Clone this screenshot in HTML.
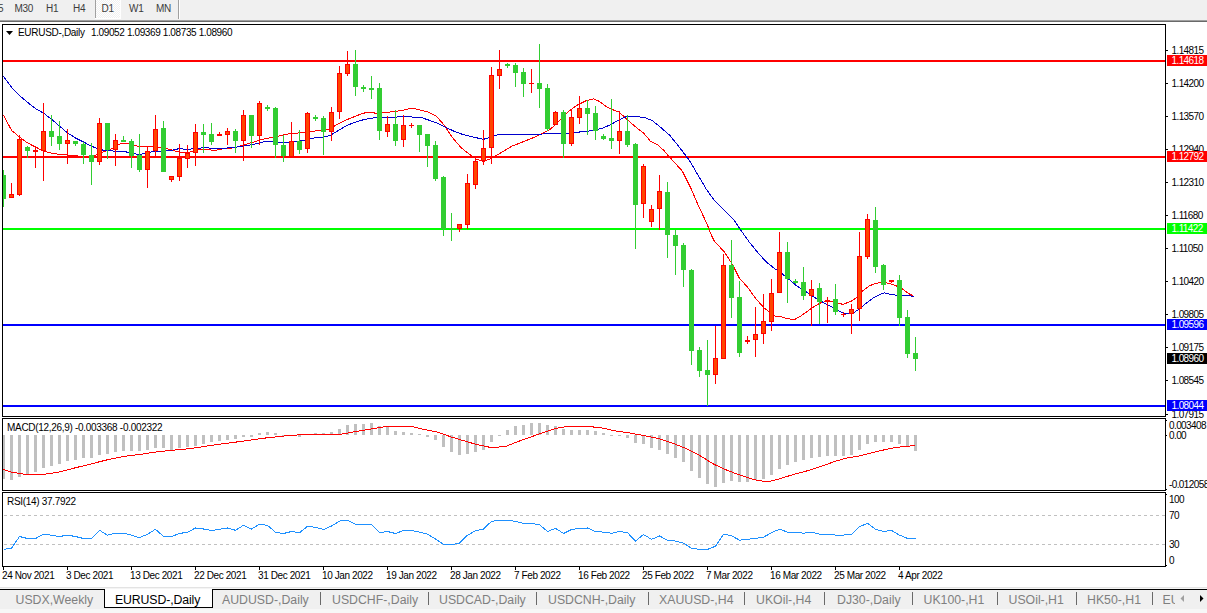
<!DOCTYPE html><html><head><meta charset="utf-8"><title>EURUSD-,Daily</title><style>
html,body{margin:0;padding:0;background:#fff;overflow:hidden}
body{width:1207px;height:613px;position:relative;font-family:"Liberation Sans",sans-serif}
svg{position:absolute;left:0;top:0;display:block}
.t{position:absolute;white-space:nowrap;font-family:"Liberation Sans",sans-serif;font-size:10px;line-height:11px;height:11px;color:#000;letter-spacing:-0.3px}
.tb{color:#3c3c3c}
.ax{letter-spacing:-0.6px}
.dt{letter-spacing:-0.4px}
.t2{letter-spacing:-0.38px}
.lb{position:absolute;left:1167px;width:40px;height:11px;color:#fff}
.lb span{position:absolute;left:4.5px;top:0;font-size:10px;letter-spacing:-0.6px;line-height:11px;white-space:nowrap}
.tab{position:absolute;top:591px;height:18px;line-height:18px;font-size:12.3px;color:#7f7f7f;white-space:nowrap}
</style></head><body>
<svg width="1207" height="613" viewBox="0 0 1207 613" shape-rendering="crispEdges">
<rect x="0" y="0" width="1207" height="20" fill="#f0f0f0"/>
<rect x="0" y="20" width="1207" height="1" fill="#a0a0a0"/>
<rect x="0" y="21" width="1207" height="1" fill="#696969"/>
<defs><pattern id="ck" x="0" y="0" width="2" height="2" patternUnits="userSpaceOnUse"><rect width="2" height="2" fill="#f0f0f0"/><rect x="0" y="0" width="1" height="1" fill="#fff"/><rect x="1" y="1" width="1" height="1" fill="#fff"/></pattern></defs>
<rect x="96" y="0" width="24" height="18" fill="url(#ck)"/>
<rect x="95" y="0" width="1" height="18" fill="#a0a0a0"/>
<rect x="120" y="0" width="1" height="19" fill="#ffffff"/>
<rect x="95" y="18" width="26" height="1" fill="#ffffff"/>
<rect x="178" y="0" width="1" height="19" fill="#a0a0a0"/>
<rect x="179" y="0" width="1" height="19" fill="#ffffff"/>
<rect x="2.5" y="24.5" width="1163" height="392" fill="#fff" stroke="#000" stroke-width="1"/>
<rect x="2.5" y="418.5" width="1163" height="72" fill="#fff" stroke="#000" stroke-width="1"/>
<rect x="2.5" y="492.5" width="1163" height="74" fill="#fff" stroke="#000" stroke-width="1"/>
<rect x="3" y="60" width="1162" height="2" fill="#ff0000"/>
<rect x="3" y="156" width="1162" height="2" fill="#ff0000"/>
<rect x="3" y="228" width="1162" height="2" fill="#00ff00"/>
<rect x="3" y="324" width="1162" height="2" fill="#0000ff"/>
<rect x="3" y="405" width="1162" height="2" fill="#0000ff"/>
<polyline points="3.3,115.0 11.6,130.4 19.5,137.0 27.5,142.9 35.5,147.0 43.4,151.1 51.5,153.1 59.5,154.5 67.4,155.0 75.4,155.8 85.0,156.5 93.3,156.3 102.4,152.2 109.9,149.7 118.2,144.7 123.1,143.0 129.0,143.9 138.0,146.4 146.3,146.7 156.3,147.2 162.9,148.0 169.5,149.3 176.2,151.3 182.8,152.7 189.4,152.2 197.7,149.7 206.0,149.3 214.3,150.5 222.6,148.9 230.8,148.4 239.1,146.4 247.4,143.9 255.7,141.4 264.0,138.9 272.3,137.3 280.6,135.6 288.3,134.0 296.6,133.1 304.9,132.3 313.1,131.2 321.4,130.3 329.7,129.0 338.0,124.0 346.3,119.9 354.6,116.6 362.9,113.3 369.5,112.1 376.1,113.3 386.0,112.4 396.0,111.3 404.3,109.9 411.7,108.0 419.2,109.9 427.5,111.9 435.8,115.7 444.0,124.9 452.3,137.3 460.6,147.2 468.9,153.9 475.8,158.8 483.3,161.6 491.5,158.3 496.5,155.5 503.1,151.4 511.4,146.4 519.7,143.1 528.0,139.8 536.3,136.5 542.9,133.1 549.5,129.8 556.2,124.0 562.8,117.4 569.4,110.8 576.0,105.8 586.0,100.8 593.4,98.8 599.2,101.3 605.9,106.3 612.5,109.6 619.1,112.1 627.4,119.7 635.7,127.0 644.0,133.5 650.6,141.4 657.2,144.4 663.9,150.5 668.0,155.5 673.0,160.8 682.1,170.8 691.3,189.0 697.9,204.7 707.0,223.8 710.3,232.9 714.4,241.2 724.4,252.0 732.7,264.9 739.3,278.1 747.6,287.2 755.9,298.8 764.2,307.9 774.1,315.9 782.4,317.1 786.6,318.4 794.1,319.8 801.5,315.6 811.5,308.2 819.8,303.2 828.0,300.7 835.5,302.4 843.0,304.4 851.3,301.2 857.9,296.6 862.9,290.8 869.5,285.8 876.1,283.3 882.7,282.5 889.4,283.3 896.0,285.8 902.6,289.1 908.4,293.3 914.2,296.6" fill="none" stroke="#ff0000" stroke-width="1" shape-rendering="crispEdges"/>
<polyline points="3.3,76.1 11.6,87.3 19.5,95.6 27.5,102.3 35.5,108.6 43.4,113.0 51.5,119.3 59.5,126.0 67.4,132.9 75.4,137.9 83.5,142.0 91.5,146.2 99.4,149.5 107.4,150.8 115.5,151.1 123.4,151.5 131.4,152.8 139.4,154.8 147.5,152.5 155.4,151.5 163.4,151.1 171.3,150.3 179.5,148.6 187.4,149.5 195.4,148.3 206.0,147.7 214.3,148.5 222.6,148.4 230.8,147.7 239.1,146.7 247.4,145.5 255.7,143.9 264.0,141.7 272.3,141.4 280.6,142.6 288.3,142.7 296.6,141.4 304.9,140.1 313.1,138.1 321.4,137.3 329.7,135.6 336.3,131.8 346.3,125.7 354.6,122.4 362.9,119.9 369.5,118.6 376.1,117.4 386.0,117.4 396.0,117.1 404.3,116.1 412.6,117.1 420.8,117.4 429.1,120.2 437.4,123.2 445.7,127.3 454.0,131.2 462.3,134.3 470.6,136.5 476.6,137.8 483.3,139.4 489.9,137.3 498.2,134.5 519.7,134.5 542.9,134.0 561.1,133.6 572.7,133.1 582.7,131.5 592.6,130.7 602.6,128.2 610.8,124.5 619.1,119.9 627.4,116.1 635.7,116.9 644.0,117.1 652.3,120.7 660.6,127.3 670.0,135.6 680.0,148.0 689.6,160.8 697.9,174.9 706.2,189.0 714.4,200.6 726.9,213.0 734.3,220.5 741.0,230.4 749.2,242.0 757.5,252.2 765.8,261.5 774.1,268.2 782.4,274.0 790.7,280.6 796.6,285.8 804.9,290.8 813.1,296.6 821.4,301.5 829.7,305.7 838.0,310.7 846.3,314.0 852.9,313.1 859.5,309.0 866.2,303.2 872.8,298.2 879.4,294.6 884.4,292.9 891.0,294.6 899.3,295.4 907.6,295.4 914.2,296.6" fill="none" stroke="#0000cd" stroke-width="1" shape-rendering="crispEdges"/>
<rect x="3" y="170" width="1" height="37" fill="#32cd32"/>
<rect x="3" y="175" width="3" height="24" fill="#32cd32"/>
<rect x="11" y="183" width="1" height="15" fill="#ff0000"/>
<rect x="9" y="194" width="5" height="4" fill="#ff0000"/>
<rect x="10" y="195" width="3" height="2" fill="#ff4500"/>
<rect x="19" y="135" width="1" height="61" fill="#ff0000"/>
<rect x="17" y="139" width="5" height="56" fill="#ff0000"/>
<rect x="18" y="140" width="3" height="54" fill="#ff4500"/>
<rect x="27" y="146" width="1" height="12" fill="#32cd32"/>
<rect x="25" y="147" width="5" height="4" fill="#32cd32"/>
<rect x="35" y="146" width="1" height="22" fill="#ff0000"/>
<rect x="33" y="150" width="5" height="2" fill="#ff0000"/>
<rect x="43" y="103" width="1" height="78" fill="#ff0000"/>
<rect x="41" y="131" width="5" height="20" fill="#ff0000"/>
<rect x="42" y="132" width="3" height="18" fill="#ff4500"/>
<rect x="51" y="115" width="1" height="31" fill="#32cd32"/>
<rect x="49" y="131" width="5" height="6" fill="#32cd32"/>
<rect x="59" y="121" width="1" height="29" fill="#32cd32"/>
<rect x="57" y="136" width="5" height="8" fill="#32cd32"/>
<rect x="67" y="129" width="1" height="35" fill="#ff0000"/>
<rect x="65" y="140" width="5" height="4" fill="#ff0000"/>
<rect x="66" y="141" width="3" height="2" fill="#ff4500"/>
<rect x="75" y="141" width="1" height="5" fill="#32cd32"/>
<rect x="73" y="141" width="5" height="3" fill="#32cd32"/>
<rect x="83" y="142" width="1" height="22" fill="#32cd32"/>
<rect x="81" y="144" width="5" height="11" fill="#32cd32"/>
<rect x="91" y="143" width="1" height="42" fill="#32cd32"/>
<rect x="89" y="155" width="5" height="7" fill="#32cd32"/>
<rect x="99" y="118" width="1" height="47" fill="#ff0000"/>
<rect x="97" y="123" width="5" height="39" fill="#ff0000"/>
<rect x="98" y="124" width="3" height="37" fill="#ff4500"/>
<rect x="107" y="123" width="1" height="36" fill="#32cd32"/>
<rect x="105" y="123" width="5" height="27" fill="#32cd32"/>
<rect x="115" y="134" width="1" height="32" fill="#ff0000"/>
<rect x="113" y="140" width="5" height="10" fill="#ff0000"/>
<rect x="114" y="141" width="3" height="8" fill="#ff4500"/>
<rect x="123" y="136" width="1" height="6" fill="#32cd32"/>
<rect x="121" y="140" width="5" height="2" fill="#32cd32"/>
<rect x="131" y="139" width="1" height="29" fill="#32cd32"/>
<rect x="129" y="141" width="5" height="15" fill="#32cd32"/>
<rect x="139" y="134" width="1" height="38" fill="#32cd32"/>
<rect x="137" y="155" width="5" height="15" fill="#32cd32"/>
<rect x="147" y="146" width="1" height="42" fill="#ff0000"/>
<rect x="145" y="151" width="5" height="19" fill="#ff0000"/>
<rect x="146" y="152" width="3" height="17" fill="#ff4500"/>
<rect x="155" y="115" width="1" height="42" fill="#ff0000"/>
<rect x="153" y="129" width="5" height="22" fill="#ff0000"/>
<rect x="154" y="130" width="3" height="20" fill="#ff4500"/>
<rect x="163" y="121" width="1" height="51" fill="#32cd32"/>
<rect x="161" y="128" width="5" height="44" fill="#32cd32"/>
<rect x="171" y="176" width="1" height="6" fill="#ff0000"/>
<rect x="169" y="176" width="5" height="4" fill="#ff0000"/>
<rect x="170" y="177" width="3" height="2" fill="#ff4500"/>
<rect x="179" y="144" width="1" height="37" fill="#ff0000"/>
<rect x="177" y="158" width="5" height="19" fill="#ff0000"/>
<rect x="178" y="159" width="3" height="17" fill="#ff4500"/>
<rect x="187" y="145" width="1" height="23" fill="#ff0000"/>
<rect x="185" y="153" width="5" height="6" fill="#ff0000"/>
<rect x="186" y="154" width="3" height="4" fill="#ff4500"/>
<rect x="195" y="124" width="1" height="42" fill="#ff0000"/>
<rect x="193" y="132" width="5" height="21" fill="#ff0000"/>
<rect x="194" y="133" width="3" height="19" fill="#ff4500"/>
<rect x="203" y="124" width="1" height="29" fill="#32cd32"/>
<rect x="201" y="132" width="5" height="3" fill="#32cd32"/>
<rect x="211" y="123" width="1" height="22" fill="#32cd32"/>
<rect x="209" y="134" width="5" height="8" fill="#32cd32"/>
<rect x="219" y="132" width="1" height="4" fill="#ff0000"/>
<rect x="217" y="134" width="5" height="2" fill="#ff0000"/>
<rect x="227" y="128" width="1" height="17" fill="#ff0000"/>
<rect x="225" y="131" width="5" height="4" fill="#ff0000"/>
<rect x="226" y="132" width="3" height="2" fill="#ff4500"/>
<rect x="235" y="129" width="1" height="24" fill="#32cd32"/>
<rect x="233" y="131" width="5" height="10" fill="#32cd32"/>
<rect x="243" y="110" width="1" height="51" fill="#ff0000"/>
<rect x="241" y="115" width="5" height="26" fill="#ff0000"/>
<rect x="242" y="116" width="3" height="24" fill="#ff4500"/>
<rect x="251" y="115" width="1" height="33" fill="#32cd32"/>
<rect x="249" y="115" width="5" height="21" fill="#32cd32"/>
<rect x="259" y="101" width="1" height="44" fill="#ff0000"/>
<rect x="257" y="103" width="5" height="33" fill="#ff0000"/>
<rect x="258" y="104" width="3" height="31" fill="#ff4500"/>
<rect x="267" y="105" width="1" height="6" fill="#32cd32"/>
<rect x="265" y="107" width="5" height="2" fill="#32cd32"/>
<rect x="275" y="107" width="1" height="51" fill="#32cd32"/>
<rect x="273" y="108" width="5" height="37" fill="#32cd32"/>
<rect x="283" y="135" width="1" height="27" fill="#32cd32"/>
<rect x="281" y="145" width="5" height="11" fill="#32cd32"/>
<rect x="291" y="122" width="1" height="36" fill="#ff0000"/>
<rect x="289" y="141" width="5" height="16" fill="#ff0000"/>
<rect x="290" y="142" width="3" height="14" fill="#ff4500"/>
<rect x="299" y="130" width="1" height="24" fill="#32cd32"/>
<rect x="297" y="141" width="5" height="9" fill="#32cd32"/>
<rect x="307" y="112" width="1" height="41" fill="#ff0000"/>
<rect x="305" y="113" width="5" height="36" fill="#ff0000"/>
<rect x="306" y="114" width="3" height="34" fill="#ff4500"/>
<rect x="315" y="115" width="1" height="6" fill="#32cd32"/>
<rect x="313" y="117" width="5" height="2" fill="#32cd32"/>
<rect x="323" y="116" width="1" height="39" fill="#32cd32"/>
<rect x="321" y="118" width="5" height="14" fill="#32cd32"/>
<rect x="331" y="107" width="1" height="34" fill="#ff0000"/>
<rect x="329" y="112" width="5" height="20" fill="#ff0000"/>
<rect x="330" y="113" width="3" height="18" fill="#ff4500"/>
<rect x="339" y="66" width="1" height="53" fill="#ff0000"/>
<rect x="337" y="73" width="5" height="39" fill="#ff0000"/>
<rect x="338" y="74" width="3" height="37" fill="#ff4500"/>
<rect x="347" y="51" width="1" height="25" fill="#ff0000"/>
<rect x="345" y="64" width="5" height="10" fill="#ff0000"/>
<rect x="346" y="65" width="3" height="8" fill="#ff4500"/>
<rect x="355" y="50" width="1" height="46" fill="#32cd32"/>
<rect x="353" y="64" width="5" height="23" fill="#32cd32"/>
<rect x="363" y="85" width="1" height="7" fill="#32cd32"/>
<rect x="361" y="87" width="5" height="2" fill="#32cd32"/>
<rect x="371" y="76" width="1" height="23" fill="#32cd32"/>
<rect x="369" y="88" width="5" height="2" fill="#32cd32"/>
<rect x="379" y="83" width="1" height="57" fill="#32cd32"/>
<rect x="377" y="88" width="5" height="43" fill="#32cd32"/>
<rect x="387" y="116" width="1" height="21" fill="#ff0000"/>
<rect x="385" y="124" width="5" height="8" fill="#ff0000"/>
<rect x="386" y="125" width="3" height="6" fill="#ff4500"/>
<rect x="395" y="110" width="1" height="36" fill="#32cd32"/>
<rect x="393" y="124" width="5" height="17" fill="#32cd32"/>
<rect x="403" y="115" width="1" height="32" fill="#ff0000"/>
<rect x="401" y="125" width="5" height="15" fill="#ff0000"/>
<rect x="402" y="126" width="3" height="13" fill="#ff4500"/>
<rect x="411" y="123" width="1" height="5" fill="#ff0000"/>
<rect x="409" y="125" width="5" height="1" fill="#ff0000"/>
<rect x="419" y="125" width="1" height="27" fill="#32cd32"/>
<rect x="417" y="125" width="5" height="10" fill="#32cd32"/>
<rect x="427" y="134" width="1" height="33" fill="#32cd32"/>
<rect x="425" y="134" width="5" height="12" fill="#32cd32"/>
<rect x="435" y="141" width="1" height="40" fill="#32cd32"/>
<rect x="433" y="145" width="5" height="34" fill="#32cd32"/>
<rect x="443" y="176" width="1" height="60" fill="#32cd32"/>
<rect x="441" y="177" width="5" height="52" fill="#32cd32"/>
<rect x="451" y="213" width="1" height="28" fill="#32cd32"/>
<rect x="449" y="228" width="5" height="1" fill="#32cd32"/>
<rect x="459" y="224" width="1" height="8" fill="#ff0000"/>
<rect x="457" y="224" width="5" height="5" fill="#ff0000"/>
<rect x="458" y="225" width="3" height="3" fill="#ff4500"/>
<rect x="467" y="174" width="1" height="55" fill="#ff0000"/>
<rect x="465" y="183" width="5" height="42" fill="#ff0000"/>
<rect x="466" y="184" width="3" height="40" fill="#ff4500"/>
<rect x="475" y="157" width="1" height="32" fill="#ff0000"/>
<rect x="473" y="161" width="5" height="24" fill="#ff0000"/>
<rect x="474" y="162" width="3" height="22" fill="#ff4500"/>
<rect x="483" y="130" width="1" height="35" fill="#ff0000"/>
<rect x="481" y="148" width="5" height="13" fill="#ff0000"/>
<rect x="482" y="149" width="3" height="11" fill="#ff4500"/>
<rect x="491" y="67" width="1" height="97" fill="#ff0000"/>
<rect x="489" y="75" width="5" height="73" fill="#ff0000"/>
<rect x="490" y="76" width="3" height="71" fill="#ff4500"/>
<rect x="499" y="50" width="1" height="39" fill="#ff0000"/>
<rect x="497" y="69" width="5" height="7" fill="#ff0000"/>
<rect x="498" y="70" width="3" height="5" fill="#ff4500"/>
<rect x="507" y="63" width="1" height="5" fill="#32cd32"/>
<rect x="505" y="64" width="5" height="2" fill="#32cd32"/>
<rect x="515" y="63" width="1" height="24" fill="#32cd32"/>
<rect x="513" y="65" width="5" height="8" fill="#32cd32"/>
<rect x="523" y="68" width="1" height="29" fill="#32cd32"/>
<rect x="521" y="72" width="5" height="12" fill="#32cd32"/>
<rect x="531" y="69" width="1" height="24" fill="#ff0000"/>
<rect x="529" y="83" width="5" height="1" fill="#ff0000"/>
<rect x="539" y="44" width="1" height="64" fill="#32cd32"/>
<rect x="537" y="83" width="5" height="6" fill="#32cd32"/>
<rect x="547" y="84" width="1" height="47" fill="#32cd32"/>
<rect x="545" y="88" width="5" height="41" fill="#32cd32"/>
<rect x="555" y="111" width="1" height="14" fill="#ff0000"/>
<rect x="553" y="112" width="5" height="13" fill="#ff0000"/>
<rect x="554" y="113" width="3" height="11" fill="#ff4500"/>
<rect x="563" y="110" width="1" height="48" fill="#32cd32"/>
<rect x="561" y="112" width="5" height="32" fill="#32cd32"/>
<rect x="571" y="110" width="1" height="36" fill="#ff0000"/>
<rect x="569" y="117" width="5" height="27" fill="#ff0000"/>
<rect x="570" y="118" width="3" height="25" fill="#ff4500"/>
<rect x="579" y="96" width="1" height="28" fill="#ff0000"/>
<rect x="577" y="108" width="5" height="10" fill="#ff0000"/>
<rect x="578" y="109" width="3" height="8" fill="#ff4500"/>
<rect x="587" y="100" width="1" height="35" fill="#32cd32"/>
<rect x="585" y="108" width="5" height="6" fill="#32cd32"/>
<rect x="595" y="106" width="1" height="34" fill="#32cd32"/>
<rect x="593" y="113" width="5" height="18" fill="#32cd32"/>
<rect x="603" y="134" width="1" height="6" fill="#32cd32"/>
<rect x="601" y="136" width="5" height="3" fill="#32cd32"/>
<rect x="611" y="99" width="1" height="50" fill="#32cd32"/>
<rect x="609" y="138" width="5" height="3" fill="#32cd32"/>
<rect x="619" y="111" width="1" height="43" fill="#ff0000"/>
<rect x="617" y="131" width="5" height="10" fill="#ff0000"/>
<rect x="618" y="132" width="3" height="8" fill="#ff4500"/>
<rect x="627" y="115" width="1" height="32" fill="#32cd32"/>
<rect x="625" y="131" width="5" height="14" fill="#32cd32"/>
<rect x="635" y="143" width="1" height="106" fill="#32cd32"/>
<rect x="633" y="144" width="5" height="61" fill="#32cd32"/>
<rect x="643" y="164" width="1" height="54" fill="#ff0000"/>
<rect x="641" y="166" width="5" height="38" fill="#ff0000"/>
<rect x="642" y="167" width="3" height="36" fill="#ff4500"/>
<rect x="651" y="205" width="1" height="22" fill="#ff0000"/>
<rect x="649" y="209" width="5" height="13" fill="#ff0000"/>
<rect x="650" y="210" width="3" height="11" fill="#ff4500"/>
<rect x="659" y="175" width="1" height="55" fill="#ff0000"/>
<rect x="657" y="191" width="5" height="18" fill="#ff0000"/>
<rect x="658" y="192" width="3" height="16" fill="#ff4500"/>
<rect x="667" y="182" width="1" height="76" fill="#32cd32"/>
<rect x="665" y="192" width="5" height="43" fill="#32cd32"/>
<rect x="675" y="230" width="1" height="45" fill="#32cd32"/>
<rect x="673" y="235" width="5" height="11" fill="#32cd32"/>
<rect x="683" y="243" width="1" height="44" fill="#32cd32"/>
<rect x="681" y="245" width="5" height="25" fill="#32cd32"/>
<rect x="691" y="269" width="1" height="96" fill="#32cd32"/>
<rect x="689" y="270" width="5" height="81" fill="#32cd32"/>
<rect x="699" y="347" width="1" height="30" fill="#32cd32"/>
<rect x="697" y="350" width="5" height="21" fill="#32cd32"/>
<rect x="707" y="340" width="1" height="66" fill="#32cd32"/>
<rect x="705" y="370" width="5" height="5" fill="#32cd32"/>
<rect x="715" y="326" width="1" height="58" fill="#ff0000"/>
<rect x="713" y="358" width="5" height="17" fill="#ff0000"/>
<rect x="714" y="359" width="3" height="15" fill="#ff4500"/>
<rect x="723" y="254" width="1" height="105" fill="#ff0000"/>
<rect x="721" y="265" width="5" height="94" fill="#ff0000"/>
<rect x="722" y="266" width="3" height="92" fill="#ff4500"/>
<rect x="731" y="240" width="1" height="78" fill="#32cd32"/>
<rect x="729" y="265" width="5" height="33" fill="#32cd32"/>
<rect x="739" y="281" width="1" height="76" fill="#32cd32"/>
<rect x="737" y="297" width="5" height="56" fill="#32cd32"/>
<rect x="747" y="336" width="1" height="8" fill="#ff0000"/>
<rect x="745" y="340" width="5" height="2" fill="#ff0000"/>
<rect x="755" y="307" width="1" height="50" fill="#ff0000"/>
<rect x="753" y="334" width="5" height="6" fill="#ff0000"/>
<rect x="754" y="335" width="3" height="4" fill="#ff4500"/>
<rect x="763" y="294" width="1" height="50" fill="#ff0000"/>
<rect x="761" y="321" width="5" height="13" fill="#ff0000"/>
<rect x="762" y="322" width="3" height="11" fill="#ff4500"/>
<rect x="771" y="279" width="1" height="52" fill="#ff0000"/>
<rect x="769" y="293" width="5" height="29" fill="#ff0000"/>
<rect x="770" y="294" width="3" height="27" fill="#ff4500"/>
<rect x="779" y="232" width="1" height="61" fill="#ff0000"/>
<rect x="777" y="252" width="5" height="41" fill="#ff0000"/>
<rect x="778" y="253" width="3" height="39" fill="#ff4500"/>
<rect x="787" y="242" width="1" height="61" fill="#32cd32"/>
<rect x="785" y="252" width="5" height="27" fill="#32cd32"/>
<rect x="795" y="279" width="1" height="5" fill="#32cd32"/>
<rect x="793" y="281" width="5" height="2" fill="#32cd32"/>
<rect x="803" y="267" width="1" height="33" fill="#32cd32"/>
<rect x="801" y="282" width="5" height="14" fill="#32cd32"/>
<rect x="811" y="280" width="1" height="46" fill="#ff0000"/>
<rect x="809" y="289" width="5" height="7" fill="#ff0000"/>
<rect x="810" y="290" width="3" height="5" fill="#ff4500"/>
<rect x="819" y="283" width="1" height="41" fill="#32cd32"/>
<rect x="817" y="288" width="5" height="14" fill="#32cd32"/>
<rect x="827" y="297" width="1" height="26" fill="#ff0000"/>
<rect x="825" y="300" width="5" height="2" fill="#ff0000"/>
<rect x="835" y="284" width="1" height="31" fill="#32cd32"/>
<rect x="833" y="299" width="5" height="13" fill="#32cd32"/>
<rect x="843" y="312" width="1" height="5" fill="#ff0000"/>
<rect x="841" y="314" width="5" height="1" fill="#ff0000"/>
<rect x="851" y="304" width="1" height="30" fill="#ff0000"/>
<rect x="849" y="309" width="5" height="5" fill="#ff0000"/>
<rect x="850" y="310" width="3" height="3" fill="#ff4500"/>
<rect x="859" y="232" width="1" height="89" fill="#ff0000"/>
<rect x="857" y="256" width="5" height="53" fill="#ff0000"/>
<rect x="858" y="257" width="3" height="51" fill="#ff4500"/>
<rect x="867" y="214" width="1" height="45" fill="#ff0000"/>
<rect x="865" y="219" width="5" height="38" fill="#ff0000"/>
<rect x="866" y="220" width="3" height="36" fill="#ff4500"/>
<rect x="875" y="207" width="1" height="66" fill="#32cd32"/>
<rect x="873" y="220" width="5" height="47" fill="#32cd32"/>
<rect x="883" y="264" width="1" height="26" fill="#32cd32"/>
<rect x="881" y="265" width="5" height="20" fill="#32cd32"/>
<rect x="891" y="280" width="1" height="3" fill="#ff0000"/>
<rect x="889" y="280" width="5" height="2" fill="#ff0000"/>
<rect x="899" y="275" width="1" height="51" fill="#32cd32"/>
<rect x="897" y="280" width="5" height="38" fill="#32cd32"/>
<rect x="907" y="310" width="1" height="48" fill="#32cd32"/>
<rect x="905" y="317" width="5" height="37" fill="#32cd32"/>
<rect x="915" y="337" width="1" height="34" fill="#32cd32"/>
<rect x="913" y="353" width="5" height="6" fill="#32cd32"/>
<rect x="3" y="435" width="2" height="44" fill="#c0c0c0"/>
<rect x="10" y="435" width="3" height="45" fill="#c0c0c0"/>
<rect x="18" y="435" width="3" height="42" fill="#c0c0c0"/>
<rect x="26" y="435" width="3" height="40" fill="#c0c0c0"/>
<rect x="34" y="435" width="3" height="37" fill="#c0c0c0"/>
<rect x="42" y="435" width="3" height="33" fill="#c0c0c0"/>
<rect x="50" y="435" width="3" height="31" fill="#c0c0c0"/>
<rect x="58" y="435" width="3" height="29" fill="#c0c0c0"/>
<rect x="66" y="435" width="3" height="26" fill="#c0c0c0"/>
<rect x="74" y="435" width="3" height="25" fill="#c0c0c0"/>
<rect x="82" y="435" width="3" height="23" fill="#c0c0c0"/>
<rect x="90" y="435" width="3" height="23" fill="#c0c0c0"/>
<rect x="98" y="435" width="3" height="20" fill="#c0c0c0"/>
<rect x="106" y="435" width="3" height="19" fill="#c0c0c0"/>
<rect x="114" y="435" width="3" height="17" fill="#c0c0c0"/>
<rect x="122" y="435" width="3" height="16" fill="#c0c0c0"/>
<rect x="130" y="435" width="3" height="16" fill="#c0c0c0"/>
<rect x="138" y="435" width="3" height="16" fill="#c0c0c0"/>
<rect x="146" y="435" width="3" height="15" fill="#c0c0c0"/>
<rect x="154" y="435" width="3" height="13" fill="#c0c0c0"/>
<rect x="162" y="435" width="3" height="13" fill="#c0c0c0"/>
<rect x="170" y="435" width="3" height="15" fill="#c0c0c0"/>
<rect x="178" y="435" width="3" height="13" fill="#c0c0c0"/>
<rect x="186" y="435" width="3" height="12" fill="#c0c0c0"/>
<rect x="194" y="435" width="3" height="11" fill="#c0c0c0"/>
<rect x="202" y="435" width="3" height="9" fill="#c0c0c0"/>
<rect x="210" y="435" width="3" height="7" fill="#c0c0c0"/>
<rect x="218" y="435" width="3" height="6" fill="#c0c0c0"/>
<rect x="226" y="435" width="3" height="5" fill="#c0c0c0"/>
<rect x="234" y="435" width="3" height="4" fill="#c0c0c0"/>
<rect x="242" y="435" width="3" height="2" fill="#c0c0c0"/>
<rect x="250" y="435" width="3" height="2" fill="#c0c0c0"/>
<rect x="258" y="433" width="3" height="2" fill="#c0c0c0"/>
<rect x="266" y="432" width="3" height="3" fill="#c0c0c0"/>
<rect x="274" y="433" width="3" height="2" fill="#c0c0c0"/>
<rect x="282" y="435" width="3" height="1" fill="#c0c0c0"/>
<rect x="298" y="435" width="3" height="2" fill="#c0c0c0"/>
<rect x="306" y="434" width="3" height="1" fill="#c0c0c0"/>
<rect x="314" y="433" width="3" height="2" fill="#c0c0c0"/>
<rect x="322" y="433" width="3" height="2" fill="#c0c0c0"/>
<rect x="330" y="432" width="3" height="3" fill="#c0c0c0"/>
<rect x="338" y="429" width="3" height="6" fill="#c0c0c0"/>
<rect x="346" y="425" width="3" height="10" fill="#c0c0c0"/>
<rect x="354" y="424" width="3" height="11" fill="#c0c0c0"/>
<rect x="362" y="424" width="3" height="11" fill="#c0c0c0"/>
<rect x="370" y="423" width="3" height="12" fill="#c0c0c0"/>
<rect x="378" y="426" width="3" height="9" fill="#c0c0c0"/>
<rect x="386" y="427" width="3" height="8" fill="#c0c0c0"/>
<rect x="394" y="431" width="3" height="4" fill="#c0c0c0"/>
<rect x="402" y="432" width="3" height="3" fill="#c0c0c0"/>
<rect x="410" y="433" width="3" height="2" fill="#c0c0c0"/>
<rect x="418" y="434" width="3" height="1" fill="#c0c0c0"/>
<rect x="426" y="435" width="3" height="2" fill="#c0c0c0"/>
<rect x="434" y="435" width="3" height="5" fill="#c0c0c0"/>
<rect x="442" y="435" width="3" height="12" fill="#c0c0c0"/>
<rect x="450" y="435" width="3" height="17" fill="#c0c0c0"/>
<rect x="458" y="435" width="3" height="20" fill="#c0c0c0"/>
<rect x="466" y="435" width="3" height="19" fill="#c0c0c0"/>
<rect x="474" y="435" width="3" height="17" fill="#c0c0c0"/>
<rect x="482" y="435" width="3" height="15" fill="#c0c0c0"/>
<rect x="490" y="435" width="3" height="7" fill="#c0c0c0"/>
<rect x="498" y="435" width="3" height="1" fill="#c0c0c0"/>
<rect x="506" y="430" width="3" height="5" fill="#c0c0c0"/>
<rect x="514" y="426" width="3" height="9" fill="#c0c0c0"/>
<rect x="522" y="425" width="3" height="10" fill="#c0c0c0"/>
<rect x="530" y="423" width="3" height="12" fill="#c0c0c0"/>
<rect x="538" y="423" width="3" height="12" fill="#c0c0c0"/>
<rect x="546" y="425" width="3" height="10" fill="#c0c0c0"/>
<rect x="554" y="426" width="3" height="9" fill="#c0c0c0"/>
<rect x="562" y="429" width="3" height="6" fill="#c0c0c0"/>
<rect x="570" y="430" width="3" height="5" fill="#c0c0c0"/>
<rect x="578" y="430" width="3" height="5" fill="#c0c0c0"/>
<rect x="586" y="430" width="3" height="5" fill="#c0c0c0"/>
<rect x="594" y="431" width="3" height="4" fill="#c0c0c0"/>
<rect x="602" y="433" width="3" height="2" fill="#c0c0c0"/>
<rect x="610" y="435" width="3" height="1" fill="#c0c0c0"/>
<rect x="618" y="435" width="3" height="1" fill="#c0c0c0"/>
<rect x="626" y="435" width="3" height="3" fill="#c0c0c0"/>
<rect x="634" y="435" width="3" height="8" fill="#c0c0c0"/>
<rect x="642" y="435" width="3" height="9" fill="#c0c0c0"/>
<rect x="650" y="435" width="3" height="13" fill="#c0c0c0"/>
<rect x="658" y="435" width="3" height="15" fill="#c0c0c0"/>
<rect x="666" y="435" width="3" height="19" fill="#c0c0c0"/>
<rect x="674" y="435" width="3" height="23" fill="#c0c0c0"/>
<rect x="682" y="435" width="3" height="27" fill="#c0c0c0"/>
<rect x="690" y="435" width="3" height="36" fill="#c0c0c0"/>
<rect x="698" y="435" width="3" height="43" fill="#c0c0c0"/>
<rect x="706" y="435" width="3" height="49" fill="#c0c0c0"/>
<rect x="714" y="435" width="3" height="52" fill="#c0c0c0"/>
<rect x="722" y="435" width="3" height="48" fill="#c0c0c0"/>
<rect x="730" y="435" width="3" height="46" fill="#c0c0c0"/>
<rect x="738" y="435" width="3" height="47" fill="#c0c0c0"/>
<rect x="746" y="435" width="3" height="47" fill="#c0c0c0"/>
<rect x="754" y="435" width="3" height="45" fill="#c0c0c0"/>
<rect x="762" y="435" width="3" height="44" fill="#c0c0c0"/>
<rect x="770" y="435" width="3" height="40" fill="#c0c0c0"/>
<rect x="778" y="435" width="3" height="34" fill="#c0c0c0"/>
<rect x="786" y="435" width="3" height="30" fill="#c0c0c0"/>
<rect x="794" y="435" width="3" height="27" fill="#c0c0c0"/>
<rect x="802" y="435" width="3" height="25" fill="#c0c0c0"/>
<rect x="810" y="435" width="3" height="23" fill="#c0c0c0"/>
<rect x="818" y="435" width="3" height="22" fill="#c0c0c0"/>
<rect x="826" y="435" width="3" height="21" fill="#c0c0c0"/>
<rect x="834" y="435" width="3" height="21" fill="#c0c0c0"/>
<rect x="842" y="435" width="3" height="21" fill="#c0c0c0"/>
<rect x="850" y="435" width="3" height="20" fill="#c0c0c0"/>
<rect x="858" y="435" width="3" height="15" fill="#c0c0c0"/>
<rect x="866" y="435" width="3" height="9" fill="#c0c0c0"/>
<rect x="874" y="435" width="3" height="7" fill="#c0c0c0"/>
<rect x="882" y="435" width="3" height="7" fill="#c0c0c0"/>
<rect x="890" y="435" width="3" height="7" fill="#c0c0c0"/>
<rect x="898" y="435" width="3" height="9" fill="#c0c0c0"/>
<rect x="906" y="435" width="3" height="12" fill="#c0c0c0"/>
<rect x="914" y="435" width="3" height="16" fill="#c0c0c0"/>
<polyline points="3.3,469.3 11.6,472.2 24.9,474.3 44.7,474.2 58.0,472.2 74.6,468.0 91.1,463.9 107.7,459.7 124.3,456.4 140.8,454.3 157.4,451.8 174.0,450.1 190.6,448.6 214.9,444.8 239.7,441.6 264.6,438.1 289.4,435.4 314.3,434.1 341.6,434.1 354.0,431.9 369.0,429.4 383.9,426.9 413.7,426.9 426.1,429.9 438.6,432.4 451.0,436.9 463.4,440.6 475.9,444.3 489.9,447.3 504.9,446.8 517.3,441.8 529.7,437.4 542.1,432.9 554.6,428.7 567.0,426.4 584.4,426.4 599.3,427.4 614.2,430.7 629.1,432.9 644.1,435.6 659.0,438.6 673.9,443.6 686.3,448.6 698.7,454.8 713.7,464.2 728.6,470.9 741.0,475.4 753.4,479.6 765.9,481.6 772.4,480.9 784.9,477.1 797.3,473.4 809.7,470.2 822.1,466.0 834.6,461.5 847.0,458.0 859.4,456.0 871.9,452.8 884.3,449.8 896.7,447.3 909.1,446.1 915.4,445.1" fill="none" stroke="#ff0000" stroke-width="1" shape-rendering="crispEdges"/>
<line x1="4" y1="515.5" x2="1165" y2="515.5" stroke="#c0c0c0" stroke-width="1" stroke-dasharray="3,3"/>
<line x1="4" y1="544.5" x2="1165" y2="544.5" stroke="#c0c0c0" stroke-width="1" stroke-dasharray="3,3"/>
<polyline points="3.5,549.4 11.5,548.2 19.5,536.5 27.5,538.5 35.5,538.5 43.5,534.2 51.5,535.2 59.5,536.5 67.5,535.2 75.5,536.5 83.5,538.5 91.5,538.5 99.5,530.3 107.5,535.2 115.5,533.2 123.5,533.2 131.5,535.2 139.5,537.7 147.5,534.2 155.5,529.3 163.5,536.5 171.5,536.5 179.5,533.5 187.5,532.2 195.5,528.0 203.5,529.0 211.5,530.5 219.5,529.3 227.5,528.0 235.5,530.3 243.5,525.3 251.5,529.0 259.5,524.3 267.5,525.3 275.5,532.2 283.5,533.5 291.5,531.5 299.5,532.7 307.5,526.3 315.5,527.3 323.5,529.5 331.5,526.0 339.5,521.1 347.5,520.3 355.5,524.3 363.5,524.3 371.5,524.3 379.5,532.7 387.5,531.5 395.5,533.5 403.5,530.5 411.5,530.5 419.5,532.2 427.5,534.2 435.5,539.0 443.5,544.4 451.5,544.7 459.5,543.2 467.5,535.2 475.5,530.8 483.5,529.0 491.5,521.3 499.5,520.3 507.5,520.3 515.5,521.3 523.5,523.3 531.5,523.3 539.5,524.8 547.5,531.5 555.5,528.3 563.5,533.5 571.5,529.5 579.5,528.3 587.5,528.0 595.5,531.5 603.5,532.1 611.5,533.3 619.5,531.5 627.5,532.7 635.5,541.1 643.5,534.5 651.5,539.3 659.5,536.0 667.5,540.2 675.5,541.1 683.5,543.2 691.5,548.2 699.5,549.4 707.5,549.4 715.5,546.2 723.5,534.2 731.5,535.7 739.5,540.2 747.5,539.3 755.5,538.4 763.5,537.2 771.5,532.7 779.5,529.2 787.5,532.1 795.5,532.1 803.5,533.3 811.5,532.1 819.5,534.2 827.5,534.2 835.5,535.1 843.5,535.1 851.5,534.2 859.5,526.8 867.5,523.2 875.5,529.2 883.5,531.5 891.5,530.4 899.5,535.1 907.5,538.4 915.5,538.4" fill="none" stroke="#1e90ff" stroke-width="1" shape-rendering="crispEdges"/>
<rect x="1166" y="50" width="2" height="1" fill="#000"/>
<rect x="1166" y="83" width="2" height="1" fill="#000"/>
<rect x="1166" y="116" width="2" height="1" fill="#000"/>
<rect x="1166" y="149" width="2" height="1" fill="#000"/>
<rect x="1166" y="182" width="2" height="1" fill="#000"/>
<rect x="1166" y="215" width="2" height="1" fill="#000"/>
<rect x="1166" y="248" width="2" height="1" fill="#000"/>
<rect x="1166" y="281" width="2" height="1" fill="#000"/>
<rect x="1166" y="314" width="2" height="1" fill="#000"/>
<rect x="1166" y="347" width="2" height="1" fill="#000"/>
<rect x="1166" y="380" width="2" height="1" fill="#000"/>
<rect x="1166" y="414" width="2" height="1" fill="#000"/>
<rect x="1166" y="420" width="1" height="1" fill="#000"/>
<rect x="1166" y="435" width="1" height="1" fill="#000"/>
<rect x="1166" y="489" width="1" height="1" fill="#000"/>
<rect x="1166" y="494" width="1" height="1" fill="#000"/>
<rect x="1166" y="565" width="1" height="1" fill="#000"/>
<rect x="3" y="567" width="1" height="3" fill="#000"/>
<rect x="67" y="567" width="1" height="3" fill="#000"/>
<rect x="131" y="567" width="1" height="3" fill="#000"/>
<rect x="195" y="567" width="1" height="3" fill="#000"/>
<rect x="259" y="567" width="1" height="3" fill="#000"/>
<rect x="323" y="567" width="1" height="3" fill="#000"/>
<rect x="387" y="567" width="1" height="3" fill="#000"/>
<rect x="451" y="567" width="1" height="3" fill="#000"/>
<rect x="515" y="567" width="1" height="3" fill="#000"/>
<rect x="579" y="567" width="1" height="3" fill="#000"/>
<rect x="643" y="567" width="1" height="3" fill="#000"/>
<rect x="707" y="567" width="1" height="3" fill="#000"/>
<rect x="771" y="567" width="1" height="3" fill="#000"/>
<rect x="835" y="567" width="1" height="3" fill="#000"/>
<rect x="899" y="567" width="1" height="3" fill="#000"/>
<path d="M6,31 L13,31 L9.5,35 Z" fill="#000" shape-rendering="auto"/>
<rect x="0" y="587" width="1207" height="1" fill="#e3e3e3"/>
<rect x="0" y="588" width="1207" height="1" fill="#f4f4f4"/>
<rect x="0" y="589" width="1207" height="20" fill="#f0f0f0"/>
<rect x="0" y="609" width="1207" height="4" fill="#f7f7f7"/>
<rect x="0" y="589" width="104" height="1" fill="#000"/>
<rect x="212" y="589" width="995" height="1" fill="#000"/>
<rect x="105" y="589" width="107" height="18" fill="#fff"/>
<rect x="104" y="589" width="1" height="19" fill="#000"/>
<rect x="212" y="589" width="1" height="19" fill="#000"/>
<rect x="104" y="607" width="109" height="1" fill="#000"/>
<rect x="320" y="592" width="1" height="13" fill="#6a6a6a"/>
<rect x="428" y="592" width="1" height="13" fill="#6a6a6a"/>
<rect x="536" y="592" width="1" height="13" fill="#6a6a6a"/>
<rect x="648" y="592" width="1" height="13" fill="#6a6a6a"/>
<rect x="744" y="592" width="1" height="13" fill="#6a6a6a"/>
<rect x="824" y="592" width="1" height="13" fill="#6a6a6a"/>
<rect x="912" y="592" width="1" height="13" fill="#6a6a6a"/>
<rect x="997" y="592" width="1" height="13" fill="#6a6a6a"/>
<rect x="1076" y="592" width="1" height="13" fill="#6a6a6a"/>
<rect x="1152" y="592" width="1" height="13" fill="#6a6a6a"/>
<path d="M1184,595 L1184,602 L1180.5,598.5 Z" fill="#a0a0a0" shape-rendering="auto"/>
<path d="M1200,595 L1200,602 L1203.5,598.5 Z" fill="#000" shape-rendering="auto"/>
</svg>
<div class="t tb" style="left:-2px;top:3px">5</div>
<div class="t tb" style="left:14.5px;top:3px">M30</div>
<div class="t tb" style="left:46px;top:3px">H1</div>
<div class="t tb" style="left:73px;top:3px">H4</div>
<div class="t tb" style="left:101.5px;top:3px">D1</div>
<div class="t tb" style="left:129px;top:3px">W1</div>
<div class="t tb" style="left:156px;top:3px">MN</div>
<div class="t" style="left:18px;top:27px">EURUSD-,Daily</div>
<div class="t t2" style="left:91px;top:27px">1.09052 1.09369 1.08735 1.08960</div>
<div class="t" style="left:7px;top:422px">MACD(12,26,9) -0.003368 -0.002322</div>
<div class="t" style="left:7px;top:496px">RSI(14) 37.7922</div>
<div class="t ax" style="left:1171.5px;top:45px">1.14815</div>
<div class="t ax" style="left:1171.5px;top:78px">1.14200</div>
<div class="t ax" style="left:1171.5px;top:111px">1.13570</div>
<div class="t ax" style="left:1171.5px;top:144px">1.12940</div>
<div class="t ax" style="left:1171.5px;top:177px">1.12310</div>
<div class="t ax" style="left:1171.5px;top:210px">1.11680</div>
<div class="t ax" style="left:1171.5px;top:243px">1.11050</div>
<div class="t ax" style="left:1171.5px;top:276px">1.10420</div>
<div class="t ax" style="left:1171.5px;top:309px">1.09805</div>
<div class="t ax" style="left:1171.5px;top:342px">1.09175</div>
<div class="t ax" style="left:1171.5px;top:375px">1.08545</div>
<div class="t ax" style="left:1171.5px;top:409px">1.07915</div>
<div class="t ax" style="left:1169px;top:420px">0.003408</div>
<div class="t ax" style="left:1169px;top:430px">0.00</div>
<div class="t ax" style="left:1169px;top:479px">-0.012058</div>
<div class="t ax" style="left:1169px;top:494px">100</div>
<div class="t ax" style="left:1169px;top:510px">70</div>
<div class="t ax" style="left:1169px;top:539px">30</div>
<div class="t ax" style="left:1169px;top:555px">0</div>
<div class="lb" style="top:55px;background:#ff0000"><span>1.14618</span></div>
<div class="lb" style="top:151px;background:#ff0000"><span>1.12792</span></div>
<div class="lb" style="top:223px;background:#00ff00"><span>1.11422</span></div>
<div class="lb" style="top:319px;background:#0000ff"><span>1.09596</span></div>
<div class="lb" style="top:353px;background:#000000"><span>1.08960</span></div>
<div class="lb" style="top:400px;background:#0000ff"><span>1.08044</span></div>
<div class="t dt" style="left:2px;top:570px">24 Nov 2021</div>
<div class="t dt" style="left:66px;top:570px">3 Dec 2021</div>
<div class="t dt" style="left:130px;top:570px">13 Dec 2021</div>
<div class="t dt" style="left:194px;top:570px">22 Dec 2021</div>
<div class="t dt" style="left:258px;top:570px">31 Dec 2021</div>
<div class="t dt" style="left:322px;top:570px">10 Jan 2022</div>
<div class="t dt" style="left:386px;top:570px">19 Jan 2022</div>
<div class="t dt" style="left:450px;top:570px">28 Jan 2022</div>
<div class="t dt" style="left:514px;top:570px">7 Feb 2022</div>
<div class="t dt" style="left:578px;top:570px">16 Feb 2022</div>
<div class="t dt" style="left:642px;top:570px">25 Feb 2022</div>
<div class="t dt" style="left:706px;top:570px">7 Mar 2022</div>
<div class="t dt" style="left:770px;top:570px">16 Mar 2022</div>
<div class="t dt" style="left:834px;top:570px">25 Mar 2022</div>
<div class="t dt" style="left:898px;top:570px">4 Apr 2022</div>
<div class="tab" style="left:15.5px;color:#7f7f7f">USDX,Weekly</div>
<div class="tab" style="left:115px;color:#000;letter-spacing:-0.12px">EURUSD-,Daily</div>
<div class="tab" style="left:222px;color:#7f7f7f">AUDUSD-,Daily</div>
<div class="tab" style="left:332px;color:#7f7f7f">USDCHF-,Daily</div>
<div class="tab" style="left:439px;color:#7f7f7f">USDCAD-,Daily</div>
<div class="tab" style="left:548px;color:#7f7f7f">USDCNH-,Daily</div>
<div class="tab" style="left:659px;color:#7f7f7f">XAUUSD-,H4</div>
<div class="tab" style="left:756px;color:#7f7f7f">UKOil-,H4</div>
<div class="tab" style="left:837px;color:#7f7f7f">DJ30-,Daily</div>
<div class="tab" style="left:923.5px;color:#7f7f7f">UK100-,H1</div>
<div class="tab" style="left:1008.5px;color:#7f7f7f">USOil-,H1</div>
<div class="tab" style="left:1087px;color:#7f7f7f">HK50-,H1</div>
<div class="tab" style="left:1162.5px;color:#7f7f7f;width:12px;overflow:hidden">EU</div>
</body></html>
